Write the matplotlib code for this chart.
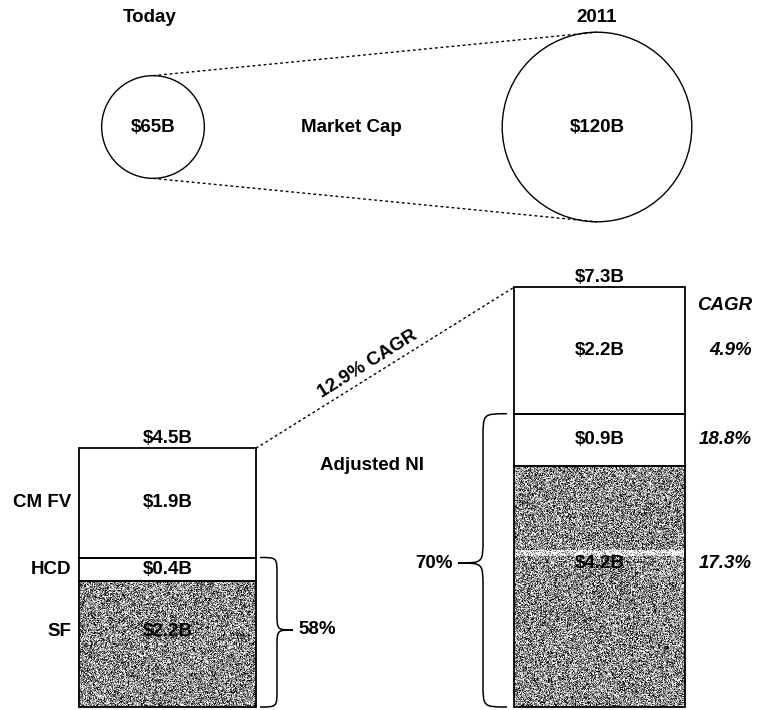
import numpy as np
import matplotlib.pyplot as plt
from matplotlib.patches import Circle, PathPatch
from matplotlib.path import Path

plt.rcParams["font.family"] = ["Liberation Sans", "DejaVu Sans"]

# ---- data ----
cap_labels = ["Today", "2011"]
market_cap = [65, 120]                 # $B
seg_names = ["SF", "HCD", "CM FV"]     # bottom -> top
ni_today = [2.2, 0.4, 1.9]             # $B
ni_2011 = [4.2, 0.9, 2.2]              # $B
ni_totals = [4.5, 7.3]
seg_cagr = ["17.3%", "18.8%", "4.9%"]
share_labels = ["58%", "70%"]
total_cagr = "12.9% CAGR"

W, H = 758, 710
PX_PER_B = 57.5        # bar height per $B
R_PER_B = 0.79         # circle radius per $B
BASE = 707             # bar baseline (pixel row from top)
FS = 13.5

def Y(row):
    return H - row

fig = plt.figure(figsize=(W / 100, H / 100), dpi=100)
ax = fig.add_axes([0, 0, 1, 1])
ax.set_xlim(0, W)
ax.set_ylim(0, H)
ax.axis("off")

txt = dict(fontsize=FS, fontweight="bold", ha="center", va="center")

# ---- market cap circles ----
cx = [153, 597]
cy = Y(127)
radii = [v * R_PER_B for v in market_cap]
for x, r, v, lab in zip(cx, radii, market_cap, cap_labels):
    ax.add_patch(Circle((x, cy), r, fill=False, lw=1.0, ec="black"))
    ax.text(x, cy, f"${v}B", **txt)
    ax.text(x - (3 if lab == "Today" else 0), Y(17), lab, **txt)
ax.plot([cx[0], cx[1]], [cy + radii[0], cy + radii[1]], ls=(0, (2, 2)), lw=1, color="black")
ax.plot([cx[0], cx[1]], [cy - radii[0], cy - radii[1]], ls=(0, (2, 2)), lw=1, color="black")
ax.text(351, cy, "Market Cap", **txt)

# ---- stacked bars ----
rng = np.random.default_rng(3)

def texture(x0, x1, y0, y1, band=None):
    h = int(y1 - y0)
    w = int(x1 - x0)
    img = np.clip(0.55 + 0.33 * rng.standard_normal((h, w)), 0, 1)
    if band is not None:
        r0, r1 = band
        img[r0:r1] = np.clip(img[r0:r1] + 0.4, 0, 1)
    ax.imshow(img, cmap="gray", vmin=0, vmax=1, extent=(x0, x1, y0, y1),
              origin="upper", interpolation="nearest", aspect="auto", zorder=1)

# rows where the segment labels sit (bottom segment labels are not centred)
label_rows = [{0: 631}, {0: 563}]

bars = [(79, 256, ni_today), (514, 685, ni_2011)]
tops = []
for bi, (x0, x1, vals) in enumerate(bars):
    bottoms = np.concatenate([[0], np.cumsum(vals)[:-1]])
    for si, (v, b) in enumerate(zip(vals, bottoms)):
        yb = Y(BASE) + b * PX_PER_B
        hgt = v * PX_PER_B
        if si == 0:
            band = None
            if bi == 1:
                band = (int(hgt - (BASE - 551)), int(hgt - (BASE - 557)))
            texture(x0, x1, yb, yb + hgt, band)
        ax.bar((x0 + x1) / 2, hgt, width=x1 - x0, bottom=yb,
               facecolor="none", edgecolor="black", lw=1.3, zorder=2)
        ly = Y(label_rows[bi][si]) if si in label_rows[bi] else yb + hgt / 2
        ax.text((x0 + x1) / 2, ly, f"${v}B", zorder=3, **txt)
        if bi == 0:
            ax.text(71, ly, seg_names[si], fontsize=FS, fontweight="bold",
                    ha="right", va="center")
        else:
            ax.text(752, ly, seg_cagr[si], fontsize=FS, fontweight="bold",
                    style="italic", ha="right", va="center")
    top = Y(BASE) + sum(vals) * PX_PER_B
    tops.append(top)
    ax.text((x0 + x1) / 2, top + 10, f"${ni_totals[bi]}B", **txt)

ax.text(752, Y(306), "CAGR", fontsize=FS, fontweight="bold", style="italic",
        ha="right", va="center")

# connecting dashed line + CAGR label
ax.plot([256, 514], [tops[0], tops[1]], ls=(0, (2, 2)), lw=1, color="black")
ax.text(368, Y(364), total_cagr, fontsize=FS, fontweight="bold", rotation=32,
        ha="center", va="center", rotation_mode="anchor")
ax.text(372, Y(465), "Adjusted NI", **txt)

# ---- braces ----
def brace(x_end, x_spine, x_tip, y_top, y_bot, y_mid, r):
    verts = [
        (x_end, y_top),
        (x_spine, y_top), (x_spine, y_top), (x_spine, y_top - r),
        (x_spine, y_mid + r),
        (x_spine, y_mid), (x_spine, y_mid), (x_tip, y_mid),
        (x_spine, y_mid), (x_spine, y_mid), (x_spine, y_mid - r),
        (x_spine, y_bot + r),
        (x_spine, y_bot), (x_spine, y_bot), (x_end, y_bot),
    ]
    codes = [Path.MOVETO, Path.CURVE4, Path.CURVE4, Path.CURVE4, Path.LINETO,
             Path.CURVE4, Path.CURVE4, Path.CURVE4, Path.CURVE4, Path.CURVE4,
             Path.CURVE4, Path.LINETO, Path.CURVE4, Path.CURVE4, Path.CURVE4]
    ax.add_patch(PathPatch(Path(verts, codes), fill=False, lw=1.1, ec="black"))

# left bar: HCD + SF share
left_top = Y(BASE) + (ni_today[0] + ni_today[1]) * PX_PER_B
brace(260, 277, 293, left_top, Y(BASE), Y(630), 17)
ax.text(298, Y(630), share_labels[0], fontsize=FS, fontweight="bold", ha="left", va="center")

right_top = Y(BASE) + (ni_2011[0] + ni_2011[1]) * PX_PER_B
brace(507, 483, 458, right_top, Y(BASE), Y(563), 24)
ax.text(453, Y(563), share_labels[1], fontsize=FS, fontweight="bold", ha="right", va="center")

fig.savefig("out.png", dpi=100)
